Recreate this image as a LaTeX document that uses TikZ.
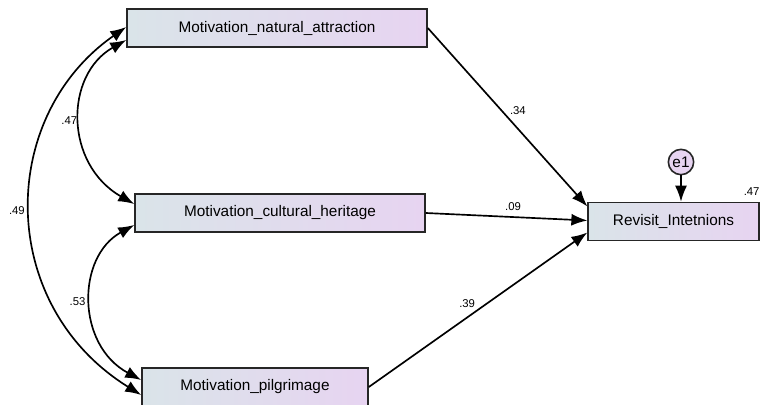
\documentclass[tikz,border=0pt]{standalone}
\usepackage{fontspec}
\setmainfont{Liberation Sans}
\usetikzlibrary{arrows.meta,calc,positioning}
\definecolor{boxleft}{HTML}{DAE4E9}
\definecolor{boxright}{HTML}{E7D4F1}
\definecolor{boxline}{HTML}{262626}
\tikzset{
  obs/.style={rectangle,draw=boxline,line width=1.2pt,left color=boxleft,right color=boxright,
    minimum height=28.5pt,inner sep=0pt,font=\fontsize{11.5}{13}\selectfont},
  err/.style={circle,draw=boxline,line width=1.2pt,fill=boxright,minimum size=19pt,inner sep=0pt,
    font=\fontsize{11.5}{13}\selectfont},
  path/.style={-{Latex[length=12pt,width=9pt]},line width=1.25pt,draw=black},
  cov/.style={{Latex[length=12pt,width=9pt]}-{Latex[length=12pt,width=9pt]},line width=1.25pt,draw=black},
  coef/.style={font=\fontsize{8.5}{9}\selectfont,inner sep=1pt}
}
\begin{document}
\begin{tikzpicture}[x=0.75pt,y=-0.75pt]
\useasboundingbox (0,0) rectangle (761,404);

% observed variables
\node[obs,minimum width=225pt] (nat) at (277,28) {Motivation\_natural\_attraction};
\node[obs,minimum width=217.5pt] (cult) at (280,213) {Motivation\_cultural\_heritage};
\node[obs,minimum width=169.5pt] (pilg) at (255,387) {Motivation\_pilgrimage};
\node[obs,minimum width=128pt] (rev) at (673.5,221.5) {Revisit\_Intetnions};

% error term
\node[err] (e1) at (681,162) {e1};
\draw[path] (e1) -- (e1 |- rev.north);
\node[coef] (r2) at ($(rev.north east)+(-8,-10)$) {.47};

% regression paths
\draw[path] (nat.east) -- node[coef,pos=0.46,right=5pt]{.34} ($(rev.west)+(0,-15)$);
\draw[path] (cult.east) -- node[coef,pos=0.54,above=3pt]{.09} ($(rev.west)+(0,-1)$);
\draw[path] (pilg.east) -- node[coef,pos=0.45,above=6pt]{.39} ($(rev.west)+(0,11)$);

% covariances
\draw[cov] ($(nat.west)+(0,12)$) .. controls +(-62,35) and +(-70,-40) .. node[coef,left=1pt]{.47} ($(cult.west)+(0,-9)$);
\draw[cov] ($(nat.west)+(0,-1)$) .. controls +(-129,90) and +(-145,-90) .. node[coef,left=3pt]{.49} ($(pilg.west)+(0,8)$);
\draw[cov] ($(cult.west)+(0,12)$) .. controls +(-58,32) and +(-65,-35) .. node[coef,left=3pt]{.53} ($(pilg.west)+(0,-7)$);
\end{tikzpicture}
\end{document}
